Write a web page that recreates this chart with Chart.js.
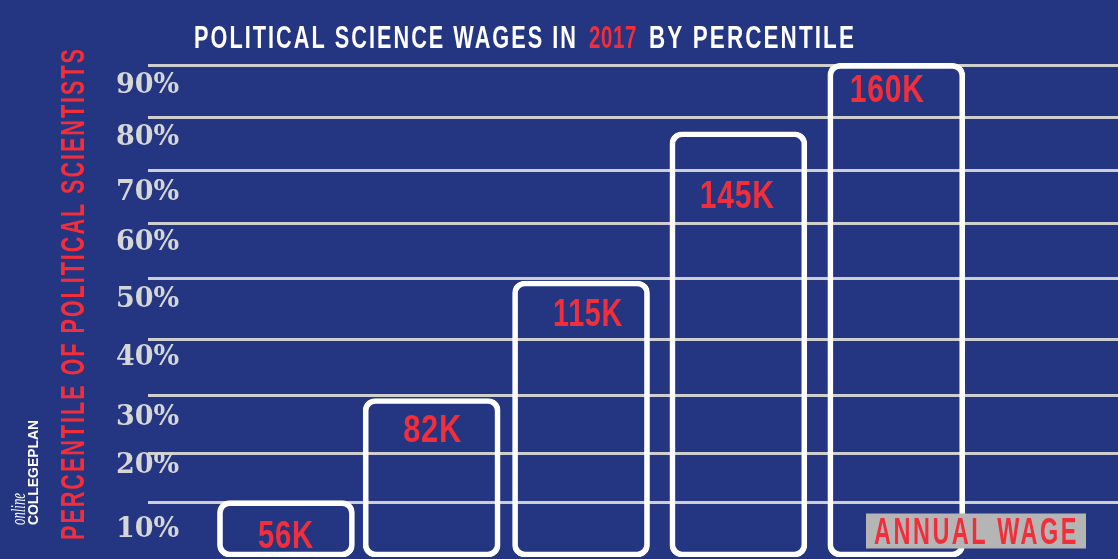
<!DOCTYPE html>
<html><head><meta charset="utf-8">
<style>html,body{margin:0;padding:0;background:#243582;overflow:hidden}canvas{display:block}</style>
<script src="https://cdn.jsdelivr.net/npm/chart.js@4/dist/chart.umd.min.js"></script>
</head><body><canvas id="c" width="1118" height="559"></canvas>
<script>
const wageLabels = ["56K","82K","115K","145K","160K"];
const barPercentiles = [10.3,29.0,50.5,77.8,90.3];
const barSlots = [1,1.955,2.934,3.965,5];
const gridPercentiles = [9.93,19.02,29.58,39.88,50.9,61.1,70.74,80.43,89.95];
const tickLabels = ["10%","20%","30%","40%","50%","60%","70%","80%","90%"];
const tickLabelLevels = [5.0,16.7,25.5,36.5,47.1,57.5,66.6,76.7,86.2];
const labelDx = [0,1,7,-1,-9];
const labelDy = [33,30,31,62,25];
const labelWidths = [56,59,70,75,75];
const RED = "#f22e3a", WHITE = "#ffffff", NARROW = '"Liberation Sans Narrow","Liberation Sans"';

function put(ctx, text, x, y, width, font, color, rot, align, spacing){
  ctx.save();
  ctx.translate(x,y);
  if(rot) ctx.rotate(rot);
  ctx.font = font; ctx.fillStyle = color;
  ctx.textAlign = align||"left"; ctx.textBaseline = "alphabetic";
  if(spacing) ctx.letterSpacing = spacing;
  ctx.fillText(text,0,0,width);
  ctx.restore();
}
const texts = {
  id:"texts",
  afterDraw(chart){
    const ctx = chart.ctx;
    const tf = 'bold 32px '+NARROW;
    put(ctx,"POLITICAL SCIENCE WAGES IN",194,48,384,tf,WHITE,0,"left","3px");
    put(ctx,"2017",589,48,48,tf,RED,0,"left","1px");
    put(ctx,"BY PERCENTILE",649,48,207,tf,WHITE,0,"left","3px");
    put(ctx,"PERCENTILE OF POLITICAL SCIENTISTS",84,540,493,'bold 33.5px '+NARROW,RED,-Math.PI/2,"left","3px");
    put(ctx,"COLLEGEPLAN",38,525,105,'bold 15px "Liberation Sans"',WHITE,-Math.PI/2);
    put(ctx,"online",25,525,32,'italic 20px "Liberation Serif"',WHITE,-Math.PI/2);
    const meta = chart.getDatasetMeta(0).data;
    wageLabels.forEach((t,i)=>{
      put(ctx,t,meta[i].x+labelDx[i],meta[i].y+labelDy[i]+14,labelWidths[i],'bold 39px '+NARROW,RED,0,"center","1px");
    });
    ctx.fillStyle="#b5b5b5"; ctx.fillRect(866,513.5,220,35);
    put(ctx,"ANNUAL WAGE",874,544,205,'bold 37px '+NARROW,RED,0,"left","4px");
  }
};
new Chart(document.getElementById("c"),{
  type:"bar",
  data:{datasets:[{
    yAxisID:"y",
    data:barSlots.map((x,i)=>({x,y:barPercentiles[i]})),
    backgroundColor:"rgba(0,0,0,0)",borderColor:WHITE,borderWidth:5,borderRadius:12,borderSkipped:false,barThickness:137
  }]},
  options:{
    responsive:false,animation:false,
    layout:{padding:{top:29,bottom:2,left:0,right:0}},
    plugins:{legend:{display:false},tooltip:{enabled:false},title:{display:false}},
    scales:{
      x:{type:"linear",display:false,offset:false,min:0.096,max:6.453,grid:{display:false}},
      y:{
        position:"left",min:0,max:96.6,
        afterBuildTicks(s){s.ticks=tickLabelLevels.map(value=>({value}));},
        afterFit(s){s.width=148;},
        border:{display:false},
        grid:{display:false,drawTicks:false},
        ticks:{
          autoSkip:false,mirror:true,padding:-32,color:"#d6d6d6",
          font:{family:'"DejaVu Serif"',size:27,weight:"bold"},
          callback:(v,i)=>tickLabels[i]
        }
      },
      yGrid:{
        position:"left",min:0,max:96.6,
        afterBuildTicks(s){s.ticks=gridPercentiles.map(value=>({value}));},
        afterFit(s){s.width=0;},
        border:{display:false},
        grid:{color:"#cfcfcf",lineWidth:3,drawTicks:false},
        ticks:{display:false,autoSkip:false}
      }
    }
  },
  plugins:[texts]
});
</script></body></html>
